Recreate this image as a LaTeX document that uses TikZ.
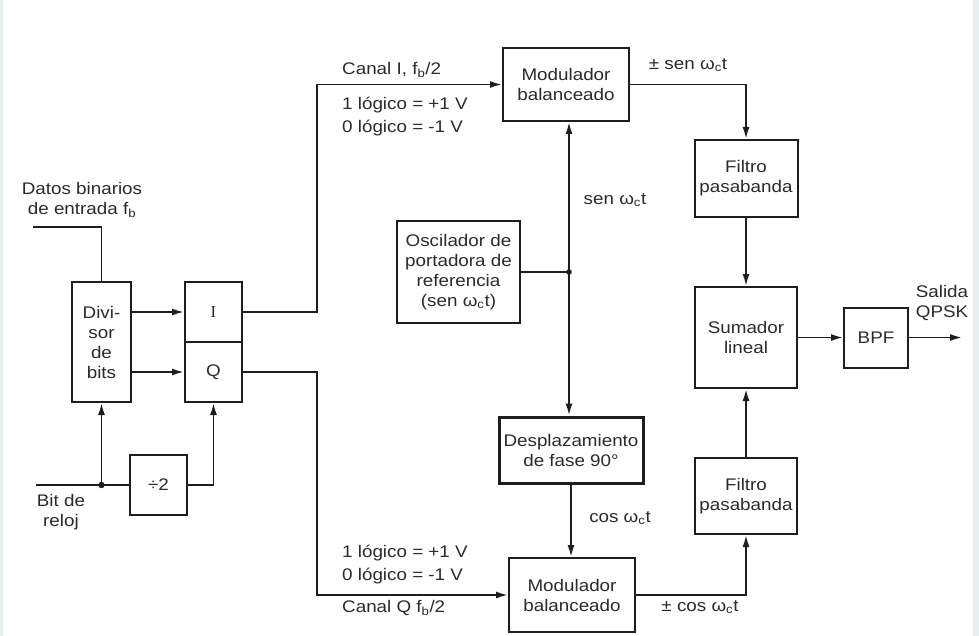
\documentclass[tikz,border=0pt]{standalone}
\usepackage{fontspec}
\setmainfont{Liberation Sans}[FakeStretch=1.12]
\newfontfamily\serifI{Liberation Serif}
\usepackage{xcolor}
\usepackage{tikz}
\usetikzlibrary{arrows.meta,positioning,calc}

\definecolor{ink}{HTML}{1E1E1E}
\definecolor{txt}{HTML}{2A2A2A}
\definecolor{edge}{HTML}{E6EEF0}

\begin{document}
\begin{tikzpicture}[
x=1pt, y=-1pt,
every node/.style={font=\fontsize{16.8}{20}\selectfont, text=txt},
blk/.style={draw=ink, line width=2pt, inner sep=0pt, align=center},
lbl/.style={inner sep=0pt, align=left, anchor=west},
arr/.style={-{Latex[length=12pt,width=7pt]}, line width=1.8pt, draw=ink},
wire/.style={line width=1.8pt, draw=ink}
]
\useasboundingbox (0,0) rectangle (979,636);
\fill[edge] (0,0) rectangle (3,636);
\fill[edge] (973,0) rectangle (979,636);

% bloques
\node[blk, minimum width=59pt, minimum height=120pt] (div) at (101.5,342) {Divi-\\sor\\de\\bits};
\node[blk, minimum width=57pt, minimum height=60pt] (iblk) at (213.5,312) {\serifI I};
\node[blk, minimum width=57pt, minimum height=60pt] (qblk) at (213.5,372) {Q};
\node[blk, minimum width=57pt, minimum height=60pt] (half) at (158.5,485) {÷2};
\node[blk, minimum width=126pt, minimum height=73pt] (modI) at (566,84.5) {Modulador\\balanceado};
\node[blk, minimum width=126pt, minimum height=74pt] (modQ) at (572,595) {Modulador\\balanceado};
\node[blk, minimum width=123pt, minimum height=101pt] (osc) at (458.5,272) {Oscilador de\\portadora de\\referencia\\(sen ω\textsubscript{c}t)};
\node[blk, line width=3pt, minimum width=144pt, minimum height=66pt] (shift) at (571,450) {Desplazamiento\\de fase 90°};
\node[blk, minimum width=103pt, minimum height=77pt] (filtI) at (746,178.5) {Filtro\\pasabanda};
\node[blk, minimum width=102pt, minimum height=101pt] (sum) at (746,337.5) {Sumador\\lineal};
\node[blk, minimum width=102pt, minimum height=76pt] (filtQ) at (746,496) {Filtro\\pasabanda};
\node[blk, minimum width=64pt, minimum height=60pt] (bpf) at (876,337.5) {BPF};

% entradas y salida
\coordinate (din) at (33,227);
\coordinate (clk) at (36,485);
\coordinate (qout) at (962,337.5);
\coordinate (tap) at (div.south |- half.west);
\coordinate (osctap) at (569,272);

\node[inner sep=0pt, align=center] (dinlbl) at (82,200) {Datos binarios\\de entrada f\textsubscript{b}};
\node[inner sep=0pt, align=center] (clklbl) at (61,512) {Bit de\\reloj};
\node[inner sep=0pt, align=center] (outlbl) at (942,303) {Salida\\QPSK};

\draw[wire] (din) -| (div.north);
\draw[wire] (clk) -- (half.west);
\fill[ink] (tap) circle (3.2pt);
\draw[arr] (tap) -- (div.south);
\draw[arr] (half.east) -| (qblk.south);
\draw[arr] (div.east |- iblk) -- (iblk.west);
\draw[arr] (div.east |- qblk) -- (qblk.west);

% canales
\draw[arr] (iblk.east) -- ++(74,0) |- (modI.west);
\draw[arr] (qblk.east) -- ++(74,0) |- (modQ.west);
\node[lbl] (chI) at (342,70) {Canal I, f\textsubscript{b}/2};
\node[lbl, align=left, font=\fontsize{16.8}{23}\selectfont] (lvI) at (342,116.5) {1 lógico = +1 V\\0 lógico = -1 V};
\node[lbl, align=left, font=\fontsize{16.8}{23}\selectfont] (lvQ) at (342,565) {1 lógico = +1 V\\0 lógico = -1 V};
\node[lbl] (chQ) at (342,608) {Canal Q f\textsubscript{b}/2};

% portadora
\draw[wire] (osc.east |- osctap) -- (osctap);
\fill[ink] (osctap) circle (2.8pt);
\draw[arr] (osctap) -- (osctap |- modI.south);
\draw[arr] (osctap) -- (osctap |- shift.north);
\draw[arr] (shift.south) -- (shift.south |- modQ.north);
\node[inner sep=0pt] (senlbl) at (615,200) {sen ω\textsubscript{c}t};
\node[inner sep=0pt] (coslbl) at (620,518) {cos ω\textsubscript{c}t};

% suma
\draw[arr] (modI.east) -| (filtI.north);
\draw[arr] (modQ.east) -| (filtQ.south);
\draw[arr] (filtI) -- (sum);
\draw[arr] (filtQ) -- (sum);
\draw[arr] (sum) -- (bpf);
\draw[arr] (bpf) -- (qout);
\node[inner sep=0pt] (psen) at (688,65) {± sen ω\textsubscript{c}t};
\node[inner sep=0pt] (pcos) at (700,607) {± cos ω\textsubscript{c}t};
\end{tikzpicture}
\end{document}
